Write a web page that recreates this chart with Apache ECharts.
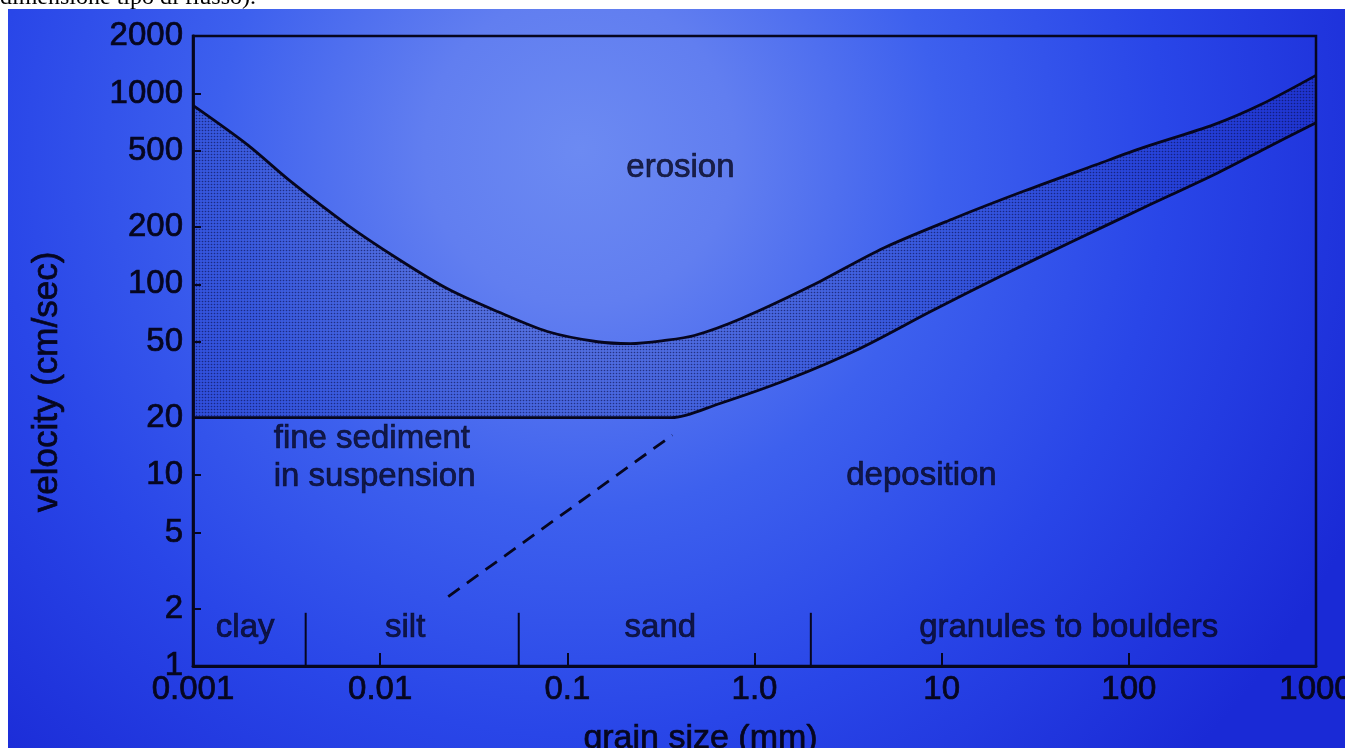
<!DOCTYPE html>
<html><head><meta charset="utf-8">
<script src="https://cdn.jsdelivr.net/npm/echarts@6/dist/echarts.min.js"></script>
<style>html,body{margin:0;padding:0;background:#fff;overflow:hidden}#chart{width:1355px;height:748px;}</style>
</head><body><div id="chart"></div>
<script>
// ---- data ----
const xTickValues = [0.001, 0.01, 0.1, 1, 10, 100, 1000];
const xTickLabels = ['0.001', '0.01', '0.1', '1.0', '10', '100', '1000'];
const yTickValues = [1, 2, 5, 10, 20, 50, 100, 200, 500, 1000, 2000];
const yTickLabels = ['1', '2', '5', '10', '20', '50', '100', '200', '500', '1000', '2000'];

// erosion threshold (upper curve): grain size (mm) / velocity (cm/s)
const erosionSize = [0.001, 0.00195, 0.0033, 0.00667, 0.0123, 0.0228, 0.0423, 0.0782, 0.145, 0.217, 0.326, 0.477, 0.851, 2.04, 4.9, 11.7, 27.8, 66.7, 119, 285, 508, 1000];
const erosionVel  = [865, 539, 348, 205, 137, 95, 72, 56.6, 50, 48.9, 50.7, 53.9, 66.2, 98.8, 155, 222, 309, 423, 520, 687, 875, 1244];
// deposition threshold (lower curve)
const depositionSize = [0.001, 0.245, 0.36, 0.641, 1.54, 3.64, 8.73, 20.9, 50.2, 119, 285, 508, 1000];
const depositionVel  = [20, 20, 20, 23.6, 32, 46, 72, 111, 168, 251, 375, 501, 703];
// dashed line
const dashedSize = [0.0231, 0.364];
const dashedVel  = [2.31, 16.2];
// grain classes
const classNames = ['clay', 'silt', 'sand', 'granules to boulders'];
const classLabelSize = [0.0019, 0.0136, 0.314, 47.7];
const classLabelVel = 1.58;
const classBoundarySize = [0.004, 0.055, 2];
const classBoundaryVel = [1, 1.9];
// region labels
const regionNames = ['erosion', 'fine sediment\nin suspension', 'deposition'];
const regionSize = [0.402, 0.0027, 7.8];
const regionVel  = [408, 12.3, 9.86];

// ---- styles ----
const INK = '#06061f';
const FONT = '"Liberation Sans", Arial, Helvetica, sans-serif';
const TXT = { color: INK, fontFamily: FONT, textBorderColor: INK, textBorderWidth: 0.7 };
const bgGrad = {
  type: 'radial', x: 580, y: 150, r: 860, global: true,
  colorStops: [
    { offset: 0, color: '#6c8af2' },
    { offset: 0.18, color: '#617ef0' },
    { offset: 0.42, color: '#3d60ee' },
    { offset: 0.68, color: '#2946e8' },
    { offset: 1, color: '#1a2ad6' }
  ]
};
const pc = document.createElement('canvas');
pc.width = 3; pc.height = 3;
const pctx = pc.getContext('2d');
pctx.fillStyle = 'rgba(20,30,110,0.12)';
pctx.fillRect(0, 0, 3, 3);
pctx.fillStyle = 'rgba(10,14,70,0.6)';
pctx.beginPath(); pctx.arc(1.5, 1.5, 0.8, 0, Math.PI * 2); pctx.fill();

const zip = (xs, ys) => xs.map((x, i) => [x, Array.isArray(ys) ? ys[i] : ys]);

const series = [
  {
    type: 'line', name: 'erosion', data: zip(erosionSize, erosionVel),
    smooth: 0.3, showSymbol: false, z: 2,
    lineStyle: { color: INK, width: 2.8 },
    areaStyle: { color: { image: pc, repeat: 'repeat' }, origin: 'start', opacity: 1 }
  },
  {
    type: 'line', name: 'deposition', data: zip(depositionSize, depositionVel),
    smooth: 0.3, showSymbol: false, z: 3,
    lineStyle: { color: INK, width: 2.8 },
    areaStyle: { color: bgGrad, origin: 'start', opacity: 1 }
  },
  {
    type: 'line', name: 'dashed', data: zip(dashedSize, dashedVel),
    showSymbol: false, z: 4,
    lineStyle: { color: INK, width: 2.8, type: [14, 9] }
  }
];
classBoundarySize.forEach(s => series.push({
  type: 'line', data: classBoundaryVel.map(v => [s, v]), showSymbol: false, z: 5,
  lineStyle: { color: INK, width: 2 }
}));
series.push({
  type: 'scatter', symbolSize: 0, z: 6, silent: true,
  data: classNames.map((n, i) => ({ value: [classLabelSize[i], classLabelVel], name: n })),
  label: Object.assign({ show: true, position: [0, 0], align: 'center', verticalAlign: 'middle',
    formatter: p => p.name, fontSize: 33 }, TXT)
});
series.push({
  type: 'scatter', symbolSize: 0, z: 6, silent: true,
  data: regionNames.map((n, i) => ({ value: [regionSize[i], regionVel[i]], name: n,
    label: { align: i === 1 ? 'left' : 'center' } })),
  label: Object.assign({ show: true, position: [0, 0], align: 'center', verticalAlign: 'middle', lineHeight: 38,
    formatter: p => p.name, fontSize: 33 }, TXT)
});

const chart = echarts.init(document.getElementById('chart'), null, { renderer: 'canvas' });
chart.setOption({
  animation: false,
  backgroundColor: '#ffffff',
  graphic: [
    { type: 'text', z: -200, style: { text: 'dimensione tipo di flusso).', x: 0, y: 10, verticalAlign: 'bottom',
      font: '24px "Liberation Serif", "DejaVu Serif", serif', fill: '#000' } },
    { type: 'rect', z: -100, shape: { x: 8, y: 9, width: 1337, height: 740 }, style: { fill: bgGrad } },
    { type: 'rect', z: 100, shape: { x: 1345, y: 0, width: 10, height: 748 }, style: { fill: '#fff' } }
  ],
  grid: { left: 193, right: 39, top: 36, bottom: 82, show: true, borderColor: INK, borderWidth: 2.5,
    backgroundColor: 'transparent', z: 10, containLabel: false, outerBoundsMode: 'none' },
  xAxis: {
    type: 'log', logBase: 10, min: 0.001, max: 1000, z: 10,
    name: 'grain size (mm)', nameLocation: 'middle', nameGap: 56,
    nameTextStyle: Object.assign({ fontSize: 34, padding: [0, 108, 0, 0] }, TXT),
    axisLine: { lineStyle: { color: INK, width: 2.8 } },
    axisTick: { inside: true, length: 13, lineStyle: { color: INK, width: 2 } },
    splitLine: { show: false }, minorTick: { show: false },
    axisLabel: Object.assign({ fontSize: 33, margin: 7,
      formatter: v => xTickLabels[xTickValues.findIndex(t => Math.abs(Math.log10(t) - Math.log10(v)) < 1e-6)] ?? '' }, TXT)
  },
  yAxis: {
    type: 'log', logBase: 10, min: 1, max: 2000, z: 10,
    name: 'velocity (cm/sec)', nameLocation: 'middle', nameGap: 128, nameRotate: 90,
    nameTextStyle: Object.assign({ fontSize: 35, padding: [0, 62, 0, 0] }, TXT),
    axisLine: { lineStyle: { color: INK, width: 2.8 } },
    axisTick: { inside: true, length: 8, lineStyle: { color: INK, width: 2 }, customValues: yTickValues },
    splitLine: { show: false }, minorTick: { show: false },
    axisLabel: Object.assign({ fontSize: 33, margin: 10, customValues: yTickValues,
      formatter: v => yTickLabels[yTickValues.findIndex(t => Math.abs(t - v) / t < 1e-6)] ?? '' }, TXT)
  },
  series
});
</script></body></html>
